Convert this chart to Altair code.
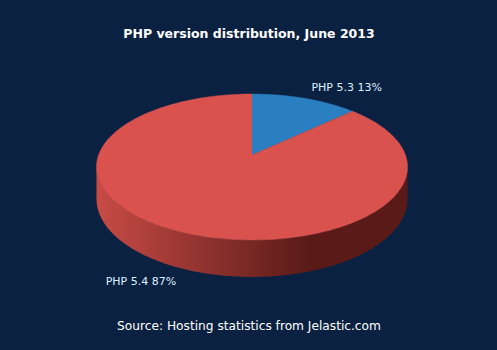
import altair as alt
import pandas as pd

# ---- data ----
labels = ["PHP 5.3", "PHP 5.4"]
shares = [13, 87]
colors = ["#2a7fc1", "#d9524e"]
wall_light = ["#1f5f91", "#c84b46"]
wall_dark = ["#0f2f48", "#5a1b18"]

title_text = "PHP version distribution, June 2013"
source_text = "Source: Hosting statistics from Jelastic.com"

# ---- layout (perspective-projected disc) ----
W, H = 497, 350
CX, CY = 252, 155      # projected centre of the top face
A, B = 153.4, 71.0     # radii before perspective division
K = 0.1644             # perspective factor
D = 30.9               # thickness
LD = 13                # label distance
N = 180
BG = "#0b2141"
FONT = "DejaVu Sans"

df = pd.DataFrame({"label": labels, "share": shares, "k": list(range(len(labels)))})

xs = alt.X("x:Q", scale=alt.Scale(domain=[0, W], nice=False, zero=False), axis=None)
ys = alt.Y("y:Q", scale=alt.Scale(domain=[0, H], nice=False, zero=False, reverse=True), axis=None)

base = (
    alt.Chart(df)
    .transform_window(cum="sum(share)", sort=[alt.SortField("k")], frame=[None, 0])
    .transform_joinaggregate(total="sum(share)")
    .transform_calculate(
        t0="2*PI*(datum.cum - datum.share)/datum.total",
        t1="2*PI*datum.cum/datum.total",
    )
)

# side wall (visible front part of the cylinder)
wall = (
    base.transform_calculate(
        ws=f"max(datum.t0, acos(-{K}))", we=f"min(datum.t1, 2*PI - acos(-{K}))"
    )
    .transform_filter("datum.ws < datum.we")
    .transform_calculate(idx=f"sequence(0, {N + 1})")
    .transform_flatten(["idx"])
    .transform_calculate(t=f"datum.ws + (datum.we - datum.ws) * datum.idx / {N}")
    .transform_calculate(q=f"1 + {K} * cos(datum.t)")
    .transform_calculate(
        x=f"{CX} + {A} * sin(datum.t) / datum.q",
        y=f"{CY} - {B} * cos(datum.t) / datum.q",
        y2=f"{CY} - {B} * cos(datum.t) / datum.q + {D} / datum.q",
    )
)

# top faces
top = (
    base.transform_calculate(idx=f"sequence(-1, {N + 1})")
    .transform_flatten(["idx"])
    .transform_calculate(
        t=f"datum.idx < 0 ? 0 : datum.t0 + (datum.t1 - datum.t0) * datum.idx / {N}",
    )
    .transform_calculate(q=f"1 + {K} * cos(datum.t)")
    .transform_calculate(
        x=f"datum.idx < 0 ? {CX} : {CX} + {A} * sin(datum.t) / datum.q",
        y=f"datum.idx < 0 ? {CY} : {CY} - {B} * cos(datum.t) / datum.q",
    )
)

layers = []
for lab, wl, wd in zip(labels, wall_light, wall_dark):
    grad = alt.Gradient(
        gradient="linear",
        stops=[
            alt.GradientStop(color=wl, offset=0),
            alt.GradientStop(color=wd, offset=0.68),
            alt.GradientStop(color=wd, offset=1),
        ],
        x1=0, x2=1, y1=0, y2=0,
    )
    layers.append(
        wall.transform_filter(alt.datum.label == lab)
        .mark_area(color=grad)
        .encode(x=xs, y=ys, y2="y2:Q")
    )
for lab, c in zip(labels, colors):
    layers.append(
        top.transform_filter(alt.datum.label == lab)
        .mark_line(fill=c, stroke=c, strokeWidth=0.5, strokeJoin="round")
        .encode(x=xs, y=ys, order="idx:Q")
    )

lab_base = (
    base.transform_calculate(tm="(datum.t0 + datum.t1) / 2")
    .transform_calculate(q=f"1 + {K} * cos(datum.tm)")
    .transform_calculate(
        x=f"{CX} + {A + LD} * sin(datum.tm) / datum.q + 2",
        y=f"{CY} - {B + LD} * cos(datum.tm) / datum.q + (cos(datum.tm) < 0 ? {D} / datum.q : 0)",
        txt="datum.label + ' ' + round(datum.share * 100 / datum.total) + '%'",
        s="sin(datum.tm)",
    )
)
for cond, al in [("datum.s >= 0", "left"), ("datum.s < 0", "right")]:
    layers.append(
        lab_base.transform_filter(cond)
        .mark_text(align=al, baseline="middle", font=FONT, fontSize=11, color="#dcefff")
        .encode(x=xs, y=ys, text="txt:N")
    )

layers.append(
    alt.Chart(pd.DataFrame({"t": [title_text]}))
    .mark_text(font=FONT, fontSize=12.5, fontWeight="bold", color="#ffffff", baseline="middle")
    .encode(x=alt.value(249), y=alt.value(34), text="t:N")
)
layers.append(
    alt.Chart(pd.DataFrame({"t": [source_text]}))
    .mark_text(font=FONT, fontSize=12.2, color="#ffffff", baseline="middle")
    .encode(x=alt.value(249), y=alt.value(326), text="t:N")
)

chart = (
    alt.layer(*layers)
    .properties(width=W, height=H, background=BG, padding=0, autosize=alt.AutoSizeParams(type="none"))
    .configure_view(stroke=None)
)

chart.save("out.html", embed_options={"renderer": "svg", "actions": False})
